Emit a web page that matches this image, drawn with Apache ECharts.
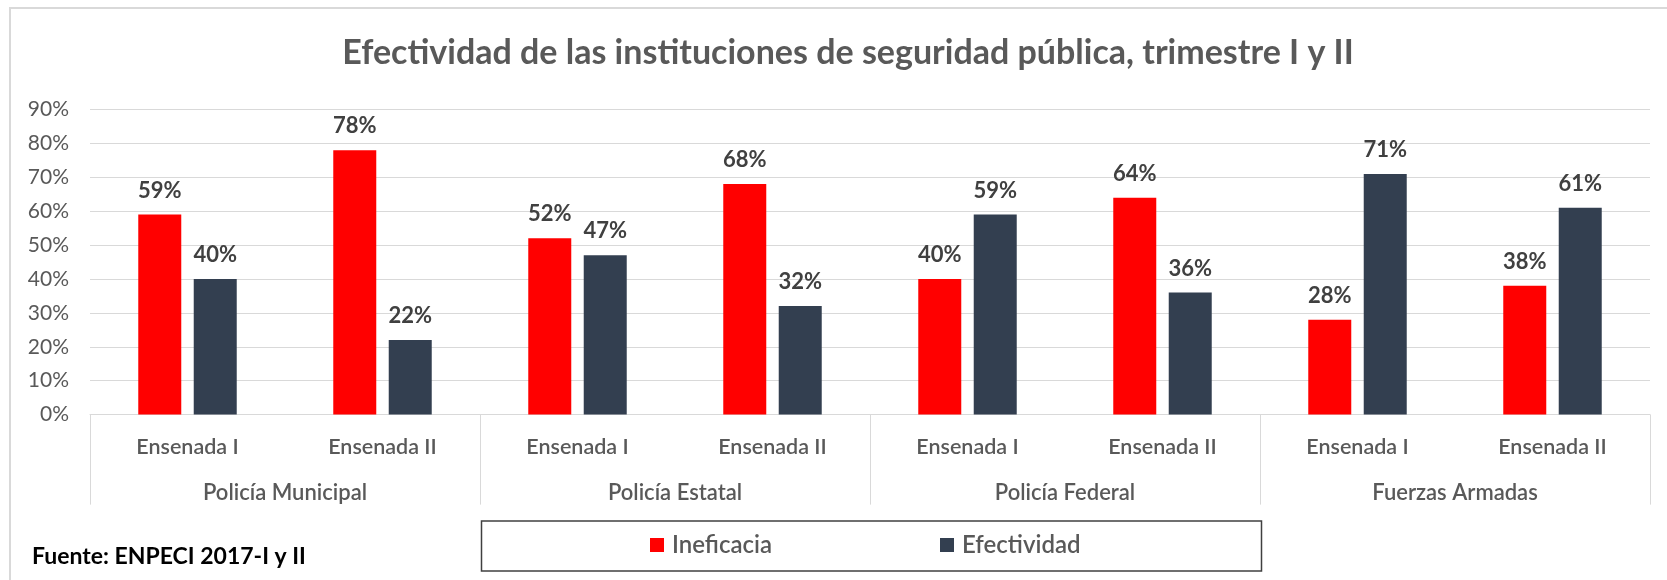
<!DOCTYPE html>
<html>
<head>
<meta charset="utf-8">
<style>
  html, body { margin: 0; padding: 0; background: #ffffff; }
  #chart { width: 1667px; height: 580px; }
</style>
<script src="https://cdn.jsdelivr.net/npm/echarts@6/dist/echarts.min.js"></script>
</head>
<body>
<div id="chart"></div>
<script>
// Periods (lower axis level) and institutions (upper axis level)
const periods = ['Ensenada I', 'Ensenada II', 'Ensenada I', 'Ensenada II',
                 'Ensenada I', 'Ensenada II', 'Ensenada I', 'Ensenada II'];
const institutions = ['Policía Municipal', 'Policía Estatal', 'Policía Federal', 'Fuerzas Armadas'];

// Percentages per period
const ineficacia  = [59, 78, 52, 68, 40, 64, 28, 38];
const efectividad = [40, 22, 47, 32, 59, 36, 71, 61];

const seriesNames = ['Ineficacia', 'Efectividad'];
const seriesColors = ['#FF0000', '#333F50'];

const titleText = 'Efectividad de las instituciones de seguridad pública, trimestre I y II';
const sourceText = 'Fuente: ENPECI 2017-I y II';

const FONT = 'Lato, "Open Sans", sans-serif';

const chart = echarts.init(document.getElementById('chart'), null, { renderer: 'canvas' });

const labelStyle = {
  show: true,
  position: 'top',
  distance: 13,
  formatter: '{c}%',
  color: '#404040',
  fontFamily: FONT,
  fontWeight: 'bold',
  fontSize: 22
};

chart.setOption({
  animation: false,
  backgroundColor: '#ffffff',
  title: {
    text: titleText,
    left: 843,
    textAlign: 'center',
    top: 31,
    textStyle: { color: '#595959', fontFamily: FONT, fontWeight: 'bold', fontSize: 34 }
  },
  grid: { left: 90, right: 17, top: 109.5, bottom: 165.4, containLabel: false },
  legend: {
    data: seriesNames,
    left: 650,
    top: 533,
    padding: 0,
    itemWidth: 14,
    itemHeight: 14,
    itemGap: 168,
    icon: 'rect',
    textStyle: { color: '#595959', fontFamily: FONT, fontWeight: 600, fontSize: 24, padding: [0, 0, 0, 3] },
    selectedMode: false
  },
  xAxis: [
    {
      type: 'category',
      data: periods,
      position: 'bottom',
      axisLine: { show: true, lineStyle: { color: '#d9d9d9', width: 1 } },
      axisTick: { show: false },
      axisLabel: { color: '#595959', fontFamily: FONT, fontWeight: 600, fontSize: 21.5, margin: 21, interval: 0 }
    },
    {
      type: 'category',
      data: institutions,
      position: 'bottom',
      axisLine: { show: false },
      axisTick: { show: true, length: 90, interval: 0, lineStyle: { color: '#d9d9d9', width: 1 } },
      axisLabel: { color: '#595959', fontFamily: FONT, fontWeight: 600, fontSize: 22, margin: 67, interval: 0 }
    }
  ],
  yAxis: {
    type: 'value',
    min: 0,
    max: 90,
    interval: 10,
    axisLine: { show: false },
    axisTick: { show: false },
    splitLine: { lineStyle: { color: '#d9d9d9', width: 1 } },
    axisLabel: { formatter: '{value}%', color: '#595959', fontFamily: FONT, fontSize: 21, margin: 21 }
  },
  series: [
    {
      name: seriesNames[0],
      type: 'bar',
      data: ineficacia,
      barWidth: 43,
      barGap: '29%',
      itemStyle: { color: seriesColors[0] },
      label: labelStyle
    },
    {
      name: seriesNames[1],
      type: 'bar',
      data: efectividad,
      barWidth: 43,
      barGap: '29%',
      itemStyle: { color: seriesColors[1] },
      label: labelStyle
    }
  ],
  graphic: [
    {
      type: 'rect',
      silent: true,
      z: -1,
      shape: { x: 10, y: 8, width: 1700, height: 620 },
      style: { fill: 'none', stroke: '#d9d9d9', lineWidth: 2 }
    },
    {
      type: 'rect',
      silent: true,
      shape: { x: 481.5, y: 521, width: 780, height: 50 },
      style: { fill: 'none', stroke: '#404040', lineWidth: 1.5 }
    },
    {
      type: 'text',
      left: 32,
      top: 545,
      style: { text: sourceText, fill: '#000000', font: 'bold 23px ' + FONT }
    }
  ]
});
</script>
</body>
</html>
